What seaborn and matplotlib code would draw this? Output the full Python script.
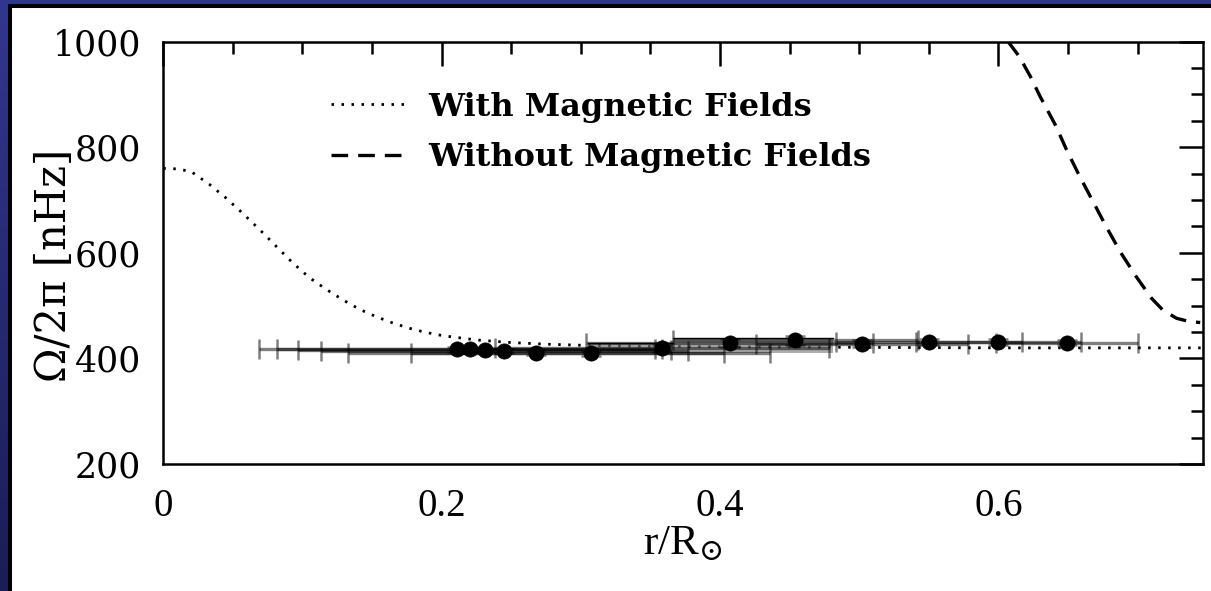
import numpy as np
import pandas as pd
import matplotlib
matplotlib.use("Agg")
import matplotlib.pyplot as plt
from matplotlib.patches import Rectangle
from matplotlib.ticker import MultipleLocator, FixedLocator, FixedFormatter
import seaborn as sns

# --- model curves -----------------------------------------------------------
r_mag = [0.0, 0.01, 0.02, 0.033, 0.045, 0.057, 0.07, 0.082, 0.093, 0.105,
         0.117, 0.129, 0.141, 0.153, 0.165, 0.177, 0.189, 0.201, 0.225, 0.25,
         0.275, 0.3, 0.35, 0.4, 0.5, 0.6, 0.7, 0.747]
omega_mag = [760, 759, 754, 730, 704, 675, 642, 610, 581, 553,
             531, 511, 493, 479, 467, 457, 449, 443, 435, 430,
             427, 425, 423, 422, 421, 420, 420, 420]

r_nomag = [0.607, 0.615, 0.623, 0.630, 0.641, 0.649, 0.658, 0.668, 0.678,
           0.688, 0.699, 0.710, 0.718, 0.728, 0.737, 0.745]
omega_nomag = [1000, 972, 934, 896, 842, 795, 747, 697, 647,
               600, 555, 514, 492, 476, 470, 468]

# --- inverted rotation rates --------------------------------------------------
r_obs = [0.211, 0.220, 0.231, 0.245, 0.268, 0.307, 0.358, 0.407, 0.454,
         0.502, 0.550, 0.600, 0.649]
omega_obs = [417, 417, 416, 414, 411, 410, 419, 429, 434, 428, 431, 431, 430]
r_width = [0.142, 0.138, 0.134, 0.132, 0.135, 0.129, 0.120, 0.103, 0.088,
           0.076, 0.067, 0.059, 0.051]
omega_err = [4, 4, 4, 4, 5, 5, 6, 8, 8, 6, 6, 5, 5]

# uncertainty boxes
box_r_lo = [0.305, 0.366]
box_r_hi = [0.366, 0.481]
box_om_lo = [420, 410]
box_om_hi = [430, 438]

legend_labels = ["With Magnetic Fields", "Without Magnetic Fields"]
xtick_vals = [0, 0.2, 0.4, 0.6]
xtick_labels = ["0", "0.2", "0.4", "0.6"]
ytick_vals = [200, 400, 600, 800, 1000]
ytick_labels = ["200", "400", "600", "800", "1000"]

sns.set_theme(style="white")
plt.rcParams["font.family"] = ["Liberation Serif", "DejaVu Serif"]
plt.rcParams["mathtext.fontset"] = "dejavuserif"

W, H = 1211, 591
fig = plt.figure(figsize=(W / 100, H / 100), dpi=100)

# blue backdrop with a gradient
bg = fig.add_axes([0, 0, 1, 1], zorder=-10)
grad = np.linspace(0, 1, 256).reshape(-1, 1)
cmap = matplotlib.colors.LinearSegmentedColormap.from_list(
    "bluebg", ["#31378e", "#1b1d56"])
bg.imshow(grad, aspect="auto", cmap=cmap, extent=[0, 1, 0, 1])
bg.set_axis_off()

# white panel with black frame
fig.patches.append(Rectangle((10 / W, -0.2), 1.2, 1.2 - 6 / H,
                             transform=fig.transFigure, facecolor="white",
                             edgecolor="black", linewidth=2.9, zorder=-5))

ax = fig.add_axes([163.3 / W, 1 - 464 / H, (1203 - 163.3) / W, (464 - 41.7) / H])
ax.set_facecolor("white")

df_mag = pd.DataFrame({"r": r_mag, "omega": omega_mag})
df_nomag = pd.DataFrame({"r": r_nomag, "omega": omega_nomag})
df_obs = pd.DataFrame({"r": r_obs, "omega": omega_obs,
                       "dr": r_width, "dom": omega_err})

sns.lineplot(data=df_mag, x="r", y="omega", ax=ax, color="black",
             linewidth=2.0, linestyle=(0, (0.9, 2.7)), label=legend_labels[0],
             estimator=None, sort=False)
sns.lineplot(data=df_nomag, x="r", y="omega", ax=ax, color="black",
             linewidth=2.4, linestyle=(0, (5, 3)), label=legend_labels[1],
             estimator=None, sort=False)

# shaded uncertainty boxes
for lo, hi, blo, bhi in zip(box_r_lo, box_r_hi, box_om_lo, box_om_hi):
    ax.fill_between([lo, hi], [blo, blo], [bhi, bhi], color="0.5",
                    alpha=0.65, linewidth=0, zorder=2)
    ax.plot([lo, hi], [bhi, bhi], color="black", linewidth=1.0, zorder=2)

# horizontal resolution bars and vertical errors
ax.errorbar(df_obs["r"], df_obs["omega"], xerr=df_obs["dr"], yerr=df_obs["dom"],
            fmt="none", ecolor=(0, 0, 0, 0.5), elinewidth=2.4, capsize=7,
            capthick=1.8, zorder=3)
sns.scatterplot(data=df_obs, x="r", y="omega", ax=ax, color="black",
                s=120, edgecolor="black", linewidth=0.5, zorder=4, legend=False)

ax.set_xlim(0, 0.747)
ax.set_ylim(200, 1000)
ax.xaxis.set_major_locator(FixedLocator(xtick_vals))
ax.xaxis.set_major_formatter(FixedFormatter(xtick_labels))
ax.yaxis.set_major_locator(FixedLocator(ytick_vals))
ax.yaxis.set_major_formatter(FixedFormatter(ytick_labels))
ax.xaxis.set_minor_locator(MultipleLocator(0.05))
ax.yaxis.set_minor_locator(MultipleLocator(50))
ax.tick_params(which="both", direction="in", top=True, right=True,
               color="black", labelcolor="black")
ax.tick_params(which="major", length=17, width=1.8)
ax.tick_params(which="minor", length=8.5, width=1.8)
ax.tick_params(axis="y", which="major", pad=16)
ax.tick_params(axis="x", which="major", pad=17, labelsize=28)
for lbl in ax.get_yticklabels():
    lbl.set_family("DejaVu Serif")
    lbl.set_fontsize(25)
for s in ax.spines.values():
    s.set_color("black")
    s.set_linewidth(1.8)
    s.set_visible(True)

ax.set_xlabel(r"r/R$_{\odot}$", fontsize=31, color="black")
ax.xaxis.set_label_coords(0.5, -0.145)
ax.set_ylabel("Ω/2π [nHz]", fontsize=30, color="black", family="DejaVu Serif")
ax.yaxis.set_label_coords(-0.085, 0.47)

leg = ax.legend(loc="upper left", bbox_to_anchor=(0.161, 0.882), frameon=False,
                prop={"family": "DejaVu Serif", "size": 23, "weight": "bold"},
                handlelength=2.5, handletextpad=0.55, labelspacing=0.62,
                borderpad=0, borderaxespad=0)
for t in leg.get_texts():
    t.set_color("black")

fig.savefig("out.png", dpi=100)
